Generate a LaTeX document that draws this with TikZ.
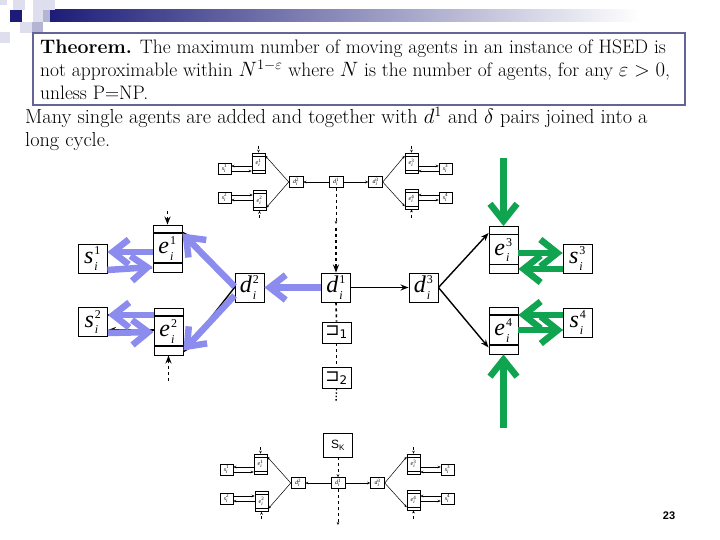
\documentclass[tikz,border=0pt]{standalone}
\usepackage{amsmath}
\usepackage{fontspec}
\newfontfamily\tnr{Liberation Serif}
\newfontfamily\dvs{DejaVu Sans}
\newfontfamily\arial{Liberation Sans}
\usetikzlibrary{arrows.meta}
\definecolor{hdnavy}{RGB}{28,28,120}
\definecolor{sqlight}{RGB}{222,222,238}
\definecolor{sqmid}{RGB}{180,180,212}
\definecolor{boxc}{RGB}{100,100,150}
\definecolor{myblue}{RGB}{140,140,238}
\definecolor{mygreen}{RGB}{16,164,80}
\newcommand\lbl[2]{{\tnr\itshape #1}\kern1pt\ensuremath{{}^{\scriptscriptstyle\text{\tnr #2}}_{\scriptscriptstyle\text{\tnr\itshape i}}}}
\newcommand\slbl[2]{{\tnr\itshape #1}\ensuremath{^{\text{\tnr #2}}_{\text{\tnr\itshape i}}}}
\newcommand\smallcopy[3]{%
\begin{scope}[shift={(#2,#3)}]
 \node[sb] (#1s1) at (224.5,168.5) {\slbl{s}{1}};
 \node[seb] (#1e1) at (258.5,163) {\slbl{e}{1}};
 \node[sb] (#1s2) at (224.5,197.5) {\slbl{s}{2}};
 \node[seb] (#1e2) at (259.5,200.5) {\slbl{e}{2}};
 \node[sd] (#1d2) at (296,182) {\slbl{d}{2}};
 \node[sd] (#1d1) at (336,182) {\slbl{d}{1}};
 \node[sd] (#1d3) at (375.5,182) {\slbl{d}{3}};
 \node[seb] (#1e3) at (411.5,163) {\slbl{e}{3}};
 \node[sb] (#1s3) at (445.5,168.5) {\slbl{s}{3}};
 \node[seb] (#1e4) at (411.5,199) {\slbl{e}{4}};
 \node[sb] (#1s4) at (445.5,197.5) {\slbl{s}{4}};
 \coordinate (#1ta) at (258.5,146);
 \coordinate (#1tb) at (259.5,218);
 \coordinate (#1tc) at (411.5,146);
 \coordinate (#1td) at (411.5,218);
 \coordinate (#1dn) at (336,224);
 \draw[tarr] (#1d1) -- (#1d2);
 \draw[tarr] (#1d1) -- (#1d3);
 \draw[tarr] (#1d2.west) -- ([yshift=-3pt]#1e1.north east);
 \draw[tarr] (#1d2.west) -- ([yshift=3pt]#1e2.south east);
 \draw[tarr] (#1d3.east) -- ([yshift=-3pt]#1e3.north west);
 \draw[tarr] (#1d3.east) -- ([yshift=3pt]#1e4.south west);
 \draw[tarr] (#1e1.west |- 0,166) -- (#1s1.east |- 0,166);
 \draw[tarr] (#1s1.east |- 0,171) -- (#1e1.west |- 0,171);
 \draw[tarr] (#1s2.east |- 0,195) -- (#1e2.west |- 0,195);
 \draw[tarr] (#1e2.west |- 0,200) -- (#1s2.east |- 0,200);
 \draw[tarr] (#1e3.east |- 0,166) -- (#1s3.west |- 0,166);
 \draw[tarr] (#1s3.west |- 0,171) -- (#1e3.east |- 0,171);
 \draw[tarr] (#1s4.west |- 0,195) -- (#1e4.east |- 0,195);
 \draw[tarr] (#1e4.east |- 0,200) -- (#1s4.west |- 0,200);
 \draw[tarr,dashed] (#1ta) -- (#1e1.north);
 \draw[tarr,dashed] (#1tb) -- (#1e2.south);
 \draw[tarr,dashed] (#1tc) -- (#1e3.north);
 \draw[tarr,dashed] (#1td) -- (#1e4.south);
 \draw[tarr,dashed] (#1d1.south) -- (#1dn);
\end{scope}}
\begin{document}
\begin{tikzpicture}[x=1pt,y=-1pt,
  box/.style={draw, line width=0.9pt, fill=white, minimum width=29pt, minimum height=29pt, inner sep=0pt, font=\fontsize{24}{26}\selectfont},
  ebox/.style={box, minimum height=47pt, path picture={
     \draw[line width=1.3pt] ([yshift=-8pt]path picture bounding box.north west) -- ([yshift=-8pt]path picture bounding box.north east);
     \draw[line width=1.3pt] ([yshift=9pt]path picture bounding box.south west) -- ([yshift=9pt]path picture bounding box.south east);}},
  sqbox/.style={draw, line width=0.9pt, fill=white, minimum width=29pt, minimum height=21pt, inner sep=0pt, font=\dvs\fontsize{17}{18}\selectfont},
  sb/.style={draw, line width=0.5pt, fill=white, minimum width=13pt, minimum height=11pt, inner sep=0pt, font=\fontsize{6}{6}\selectfont},
  seb/.style={sb, minimum height=20pt, path picture={
     \draw[line width=0.5pt] ([yshift=-3pt]path picture bounding box.north west) -- ([yshift=-3pt]path picture bounding box.north east);
     \draw[line width=0.5pt] ([yshift=3pt]path picture bounding box.south west) -- ([yshift=3pt]path picture bounding box.south east);}},
  sd/.style={sb, minimum width=14pt, minimum height=11pt},
  tarr/.style={-{Stealth[length=3pt,width=2.5pt]}, line width=0.5pt},
  barr/.style={-{Stealth[length=8pt,width=6pt]}, line width=1.4pt},
  bluearr/.style={draw=myblue, line width=6.5pt, -{Straight Barb[length=16pt,width=25pt]}},
  greenarr/.style={draw=mygreen, line width=6.5pt, -{Straight Barb[length=17pt,width=27pt]}},
  txt/.style={anchor=base west, inner sep=0pt, font=\fontsize{19.5}{22}\selectfont},
  txtb/.style={anchor=base west, inner sep=0pt, font=\fontsize{20.3}{22}\selectfont}
]
\fill[white] (0,0) rectangle (720,540);
\useasboundingbox (0,0) rectangle (720,540);
% header decoration
\shade[left color=hdnavy, right color=white] (48,10) rectangle (640,22);
\fill[sqlight] (0,0) rectangle (7,5);
\fill[sqlight] (13,0) rectangle (25,10);
\fill[sqlight] (33,0) rectangle (55,10);
\fill[sqlight] (33,10) rectangle (43,22);
\fill[sqmid] (43,10) rectangle (50,22);
\fill[hdnavy] (10,10) rectangle (22,22);
\fill[sqlight] (20,22) rectangle (32,33);
\fill[sqmid] (32,22) rectangle (43,33);
\fill[sqlight] (0,32) rectangle (10,43);
% theorem box
\draw[line width=2.5pt, draw=boxc, fill=white] (33,33) rectangle (685,105);
\node[txt] (t1) at (40,54) {\textbf{Theorem.} The maximum number of moving agents in an instance of HSED is};
\node[txt] (t2) at (40,77) {not approximable within $N^{1-\varepsilon}$ where $N$ is the number of agents, for any $\varepsilon>0$,};
\node[txt] (t3) at (40,100) {unless P=NP.};
\node[txtb] (m1) at (25,124) {Many single agents are added and together with $d^1$ and $\delta$ pairs joined into a};
\node[txtb] (m2) at (25,147) {long cycle.};
% small copies
\smallcopy{a}{0}{0}
\smallcopy{b}{2}{301}
% big diagram nodes
\node[box] (s1) at (92.5,258.5) {\lbl{s}{1}};
\node[ebox] (e1) at (167.5,248.5) {\lbl{e}{1}};
\node[box] (s2) at (93,322) {\lbl{s}{2}};
\node[ebox] (e2) at (168.5,331.5) {\lbl{e}{2}};
\node[box] (d2) at (249.5,287.5) {\lbl{d}{2}};
\node[box] (d1) at (336,287.5) {\lbl{d}{1}};
\node[box] (d3) at (423.5,287.5) {\lbl{d}{3}};
\node[ebox] (e3) at (503.5,250) {\lbl{e}{3}};
\node[box] (s3) at (577.5,258.5) {\lbl{s}{3}};
\node[ebox] (e4) at (503.5,330.5) {\lbl{e}{4}};
\node[box] (s4) at (578,322.5) {\lbl{s}{4}};
\node[sqbox] (q1) at (336.5,332.5) {⊐\textsubscript{1}};
\node[sqbox] (q2) at (336.5,378) {⊐\textsubscript{2}};
\node[sqbox, minimum height=24pt, font=\arial\fontsize{12}{13}\selectfont] (sk) at (338,445) {S\textsubscript{K}};
\coordinate (dtop) at (336,228);
\coordinate (dend) at (336,402);
\coordinate (e1top) at (167.5,211);
\coordinate (e2bot) at (168.5,381);
\coordinate (g1) at (503.5,158);
\coordinate (g2) at (503.5,428);
% dashed verticals
\draw[barr, dashed, line width=1.3pt] (dtop) -- (d1.north);
\draw[dashed, line width=1.6pt] (d1.south) -- (q1.north);
\draw[dashed, line width=1.6pt] (q1.south) -- (q2.north);
\draw[dotted, line width=1.4pt] (q2.south) -- (dend);
\draw[tarr, dashed, line width=0.7pt] (sk.south) -- (bd1.north);
\draw[barr, dashed, line width=1.3pt] (e1top) -- (e1.north);
\draw[barr, dashed, line width=1.3pt] (e2bot) -- (e2.south);
% black arrows
\draw[barr] (d1) -- (d3);
\draw[barr] (d3.east) -- ([yshift=-7pt]e3.north west);
\draw[barr] (d3.east) -- ([yshift=7pt]e4.south west);
\draw[barr] (d2.west) -- ([yshift=-7pt]e1.north east);
\draw[barr] (d2.west) -- ([yshift=3pt]e2.south east);
\draw[barr] (s1.east |- 0,268) -- (e1.west |- 0,268);
\draw[barr] (s2.east |- 0,315) -- (e2.west |- 0,315);
\draw[barr] (e2.west |- 0,330) -- (s2.east |- 0,330);
\draw[barr] (e3.east |- 0,253) -- (s3.west |- 0,253);
\draw[barr] (s4.west |- 0,315) -- (e4.east |- 0,315);
\draw[barr] (e4.east |- 0,330) -- (s4.west |- 0,330);
% blue arrows
\draw[bluearr] (d1.west) -- (d2.east);
\draw[bluearr] ([yshift=1pt]d2.west) -- ([yshift=-9pt]e1.north east);
\draw[bluearr] ([yshift=-8pt]d2.west) -- ([yshift=5pt]e2.south east);
\draw[bluearr] (e1.west |- 0,252) -- (s1.east |- 0,252);
\draw[bluearr] (s1.east |- 0,270) -- (e1.west |- 0,267);
\draw[bluearr] (e2.west |- 0,315) -- (s2.east |- 0,315);
\draw[bluearr] (s2.east |- 0,333) -- (e2.west |- 0,332);
% green arrows
\draw[greenarr] (g1) -- (e3.north);
\draw[greenarr] (e3.east |- 0,253) -- (s3.west |- 0,253);
\draw[greenarr] (s3.west |- 0,269) -- (e3.east |- 0,269);
\draw[greenarr] (s4.west |- 0,315) -- (e4.east |- 0,315);
\draw[greenarr] (e4.east |- 0,330) -- (s4.west |- 0,330);
\draw[greenarr] (g2) -- (e4.south);
% page number
\node[font=\arial\bfseries\fontsize{11}{12}\selectfont] (pg) at (669,516) {23};
\end{tikzpicture}
\end{document}
